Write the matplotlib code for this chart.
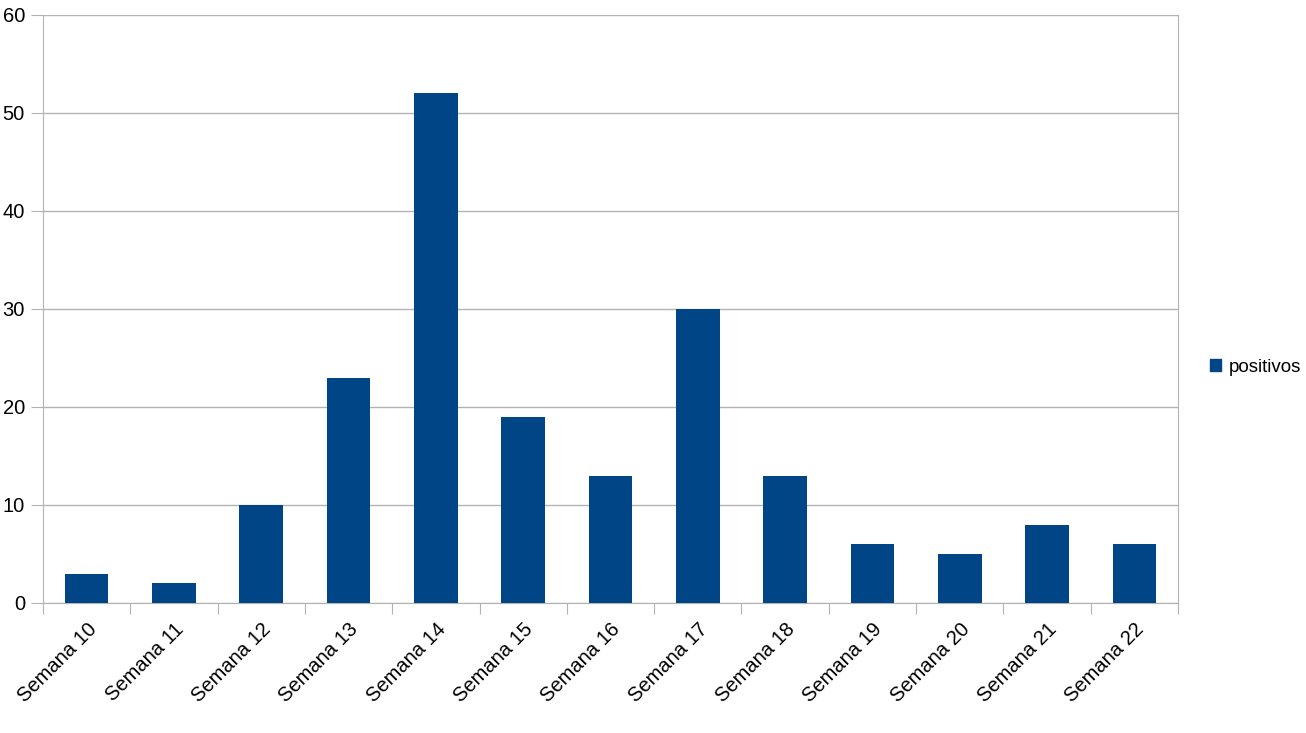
import numpy as np
import matplotlib.pyplot as plt
from matplotlib.patches import Patch

plt.rcParams['font.family'] = ['Liberation Sans', 'DejaVu Sans']

semanas = ['Semana 10', 'Semana 11', 'Semana 12', 'Semana 13', 'Semana 14', 'Semana 15',
           'Semana 16', 'Semana 17', 'Semana 18', 'Semana 19', 'Semana 20', 'Semana 21', 'Semana 22']
positivos = [3, 2, 10, 23, 52, 19, 13, 30, 13, 6, 5, 8, 6]

W, H = 1306, 733
fig = plt.figure(figsize=(W/100, H/100), dpi=100)
ax = fig.add_axes([43/W, 1-603/H, (1178-43)/W, (603-15)/H])

x = np.arange(len(semanas))
ax.bar(x, positivos, width=0.5, color='#004586', zorder=3)

ax.set_xlim(-0.5, len(semanas)-0.5)
ax.set_ylim(0, 60)
ax.set_yticks(range(0, 61, 10))
ax.grid(axis='y', color='#b3b3b3', linewidth=1, zorder=0)

# ticks on category boundaries, labels at category centres
ax.set_xticks(np.arange(-0.5, len(semanas)), minor=False)
ax.set_xticklabels([])
ax.set_xticks(x, minor=True)
ax.set_xticklabels(semanas, minor=True, rotation=45, ha='right', rotation_mode='anchor', fontsize=14.5)
ax.tick_params(axis='x', which='minor', length=0, pad=12)
ax.tick_params(axis='x', which='major', length=8, color='#b3b3b3')
ax.tick_params(axis='y', length=9, color='#b3b3b3', labelsize=14.5, pad=4)

for s in ['left', 'bottom', 'right']:
    ax.spines[s].set_color('#b3b3b3')
ax.spines['top'].set_visible(False)

fig.legend(handles=[Patch(color='#004586', label='positivos')], loc='center left',
           bbox_to_anchor=(1204/W, 1-367/H), frameon=False, fontsize=13.5,
           handlelength=0.6, handleheight=0.6, handletextpad=0.4, borderaxespad=0, borderpad=0.3)

fig.savefig('out.png', dpi=100)
